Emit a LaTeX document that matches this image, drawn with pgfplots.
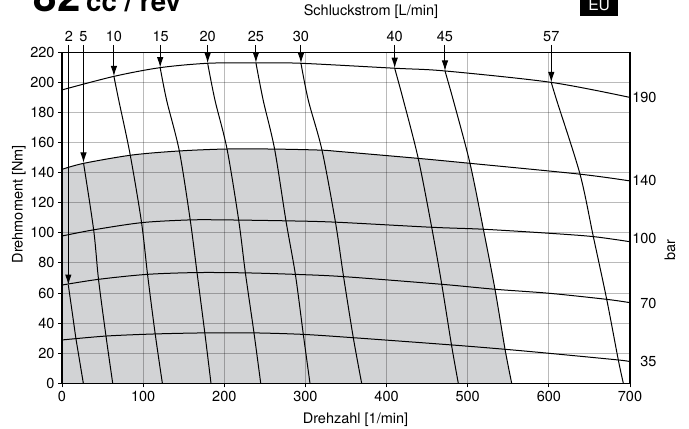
\documentclass[border=0pt]{standalone}
\usepackage{pgfplots}
\pgfplotsset{compat=1.18}
\usepackage{fontspec}
\setmainfont{TeX Gyre Heros}
\usetikzlibrary{arrows.meta}
\definecolor{fillgray}{HTML}{D2D3D5}
\newcommand\lbl{\fontsize{14.5bp}{17bp}\selectfont}

\begin{document}
\begin{tikzpicture}
\begin{axis}[
  at={(0,0)}, anchor=south west,
  scale only axis, width=568bp, height=331bp,
  xmin=0, xmax=700, ymin=0, ymax=220,
  xtick={0,100,...,700}, ytick={0,20,...,220},
  tick align=outside, xtick pos=lower, ytick pos=left,
  major tick length=4bp,
  grid=major,
  major grid style={black, opacity=0.27, line width=0.9bp},
  axis line style={black, line width=1.1bp},
  tick style={black, line width=0.9bp},
  ticklabel style={font=\lbl},
  /pgf/number format/assume math mode=true,
  clip=false, set layers, no markers,
  every axis plot/.append style={black, line width=1bp},
  arr/.style={-{Latex[length=10.5bp,width=6.5bp]}, line width=1bp},
]

% zulässiger Bereich
\addplot[fill=fillgray, draw=none, on layer=axis background] coordinates {
  (0,0) (0,142.2) (26.7,146.2) (86,151.7) (143.8,154.4) (201,155.7) (258.8,155.7)
  (318,155) (343,154) (439,149.5) (502.8,146.2) (519.3,102.4) (533.6,62.5)
  (546,22.6) (554.2,0)} -- cycle;

% Druckkurven (bar)
\addplot[smooth] coordinates {(0,195) (64,204) (121,209.8) (179.5,212.7) (239,213)
  (294.5,212.7) (410,209.4) (472,207.6) (603,200) (700,190)};
\addplot[smooth] coordinates {(0,142.2) (26.7,146.2) (86,151.7) (143.8,154.4) (201,155.7)
  (258.8,155.7) (318,155) (343,154) (439,149.5) (503,146.2) (638.4,139) (700,134.5)};
\addplot[smooth] coordinates {(0,97.9) (39,102) (98.6,106.8) (158,108.6) (201,108.6)
  (275,108) (337,107.1) (455.6,103.7) (519.3,102.4) (601,99.7) (654.8,97.5) (700,94.1)};
\addplot[smooth] coordinates {(0,65.3) (45,69.1) (104.8,72.4) (166,73.6) (226,73.4)
  (287.6,72.4) (347,70.9) (468,65.8) (533.6,62.5) (601,59.8) (671.3,55.8) (700,53.6)};
\addplot[smooth] coordinates {(0,28.8) (54.2,31.4) (114.6,32.8) (176,33.5) (236.6,33.5)
  (297.4,32.5) (359,30.3) (480,25.5) (546,22.6) (601,19.9) (685.6,15.5) (700,14.4)};

% Schluckstrom-Linien (L/min)
\addplot[sharp plot] coordinates {(7.8,65.3) (17.3,29.2) (26.3,0)};
\addplot[smooth] coordinates {(26.5,146.5) (39,102) (45,69.1) (54.2,31.4) (62.5,0)};
\addplot[smooth] coordinates {(64,204) (70,188) (84,152) (98,107) (105.5,72) (114.8,33) (123.7,0)};
\addplot[smooth] coordinates {(121,209.8) (129,188) (144.6,154.4) (158,108.6) (166.4,73.6) (176,33.5) (183.6,0)};
\addplot[smooth] coordinates {(179.5,212.7) (188.6,188) (203.4,155.7) (217.7,108.6) (226,73.4) (236.6,33.5) (244.9,0)};
\addplot[smooth] coordinates {(239,213) (248,188) (262,155.7) (276,108) (287.6,72.4) (297.4,32.5) (305.6,0)};
\addplot[smooth] coordinates {(294.5,212.7) (303.6,188) (320.4,155) (337,107.1) (347,70.9) (359,30.3) (369.3,0)};
\addplot[smooth] coordinates {(410,209.4) (420.6,188.4) (439,149.5) (455.6,103.7) (468,65.8) (480,25.5) (488.4,0)};
\addplot[smooth] coordinates {(472,207.6) (482.3,188) (502.8,146.2) (519.3,102.4) (533.6,62.5) (546,22.6) (554.2,0)};
\addplot[smooth] coordinates {(603,200) (609.7,188) (638.4,139) (654.8,97.5) (671.3,55.8) (685.6,15.5) (691.8,0)};

% Pfeile
\addplot[arr] coordinates {(7.8,225) (7.8,65.3)};
\addplot[arr] coordinates {(26.5,225) (26.5,146.5)};
\addplot[arr] coordinates {(64,225) (64,204)};
\addplot[arr] coordinates {(121,225) (121,209.8)};
\addplot[arr] coordinates {(179.5,225) (179.5,212.7)};
\addplot[arr] coordinates {(239,225) (239,213)};
\addplot[arr] coordinates {(294.5,225) (294.5,212.7)};
\addplot[arr] coordinates {(410,225) (410,209.4)};
\addplot[arr] coordinates {(472,225) (472,207.6)};
\addplot[arr] coordinates {(603,225) (603,200)};

\node[font=\lbl] at (axis cs:8.6,230.3) {2};
\node[font=\lbl] at (axis cs:26.5,230.3) {5};
\node[font=\lbl] at (axis cs:64,230.3) {10};
\node[font=\lbl] at (axis cs:121.5,230.3) {15};
\node[font=\lbl] at (axis cs:179.5,230.3) {20};
\node[font=\lbl] at (axis cs:239,230.3) {25};
\node[font=\lbl] at (axis cs:294.5,230.3) {30};
\node[font=\lbl] at (axis cs:410,230.3) {40};
\node[font=\lbl] at (axis cs:472,230.3) {45};
\node[font=\lbl] at (axis cs:603,230.3) {57};

\node[font=\lbl, anchor=east] at (axis cs:737,190.1) {190};
\node[font=\lbl, anchor=east] at (axis cs:737,135.1) {140};
\node[font=\lbl, anchor=east] at (axis cs:737,96.4) {100};
\node[font=\lbl, anchor=east] at (axis cs:737,53.2) {70};
\node[font=\lbl, anchor=east] at (axis cs:737,14.4) {35};
\node[font=\lbl, rotate=90] at (axis cs:749.3,88.6) {bar};

\node[font=\lbl, anchor=base, inner sep=0pt] at (axis cs:361.7,-26.6) {Drehzahl [1/min]};
\node[font=\lbl, rotate=90] at (axis cs:-53,119) {Drehmoment [Nm]};
\node[font=\lbl] at (axis cs:380.8,246.8) {Schluckstrom [L/min]};

\node[font=\fontsize{42bp}{44bp}\selectfont\bfseries, anchor=base west, inner sep=0pt] at (axis cs:-34.9,247) {82};
\node[font=\fontsize{27.6bp}{30bp}\selectfont\bfseries, anchor=base west, inner sep=0pt] at (axis cs:29.6,247) {cc / rev};

\fill[black] (axis cs:638.4,244.3) rectangle (axis cs:684.9,262);
\node[font=\fontsize{15.6bp}{17bp}\selectfont, text=white, anchor=base, inner sep=0pt] at (axis cs:662,247.9) {EU};
\end{axis}
\pgfresetboundingbox
\useasboundingbox (-62bp,-45.7bp) rectangle (627bp,383.3bp);
\end{tikzpicture}
\end{document}
